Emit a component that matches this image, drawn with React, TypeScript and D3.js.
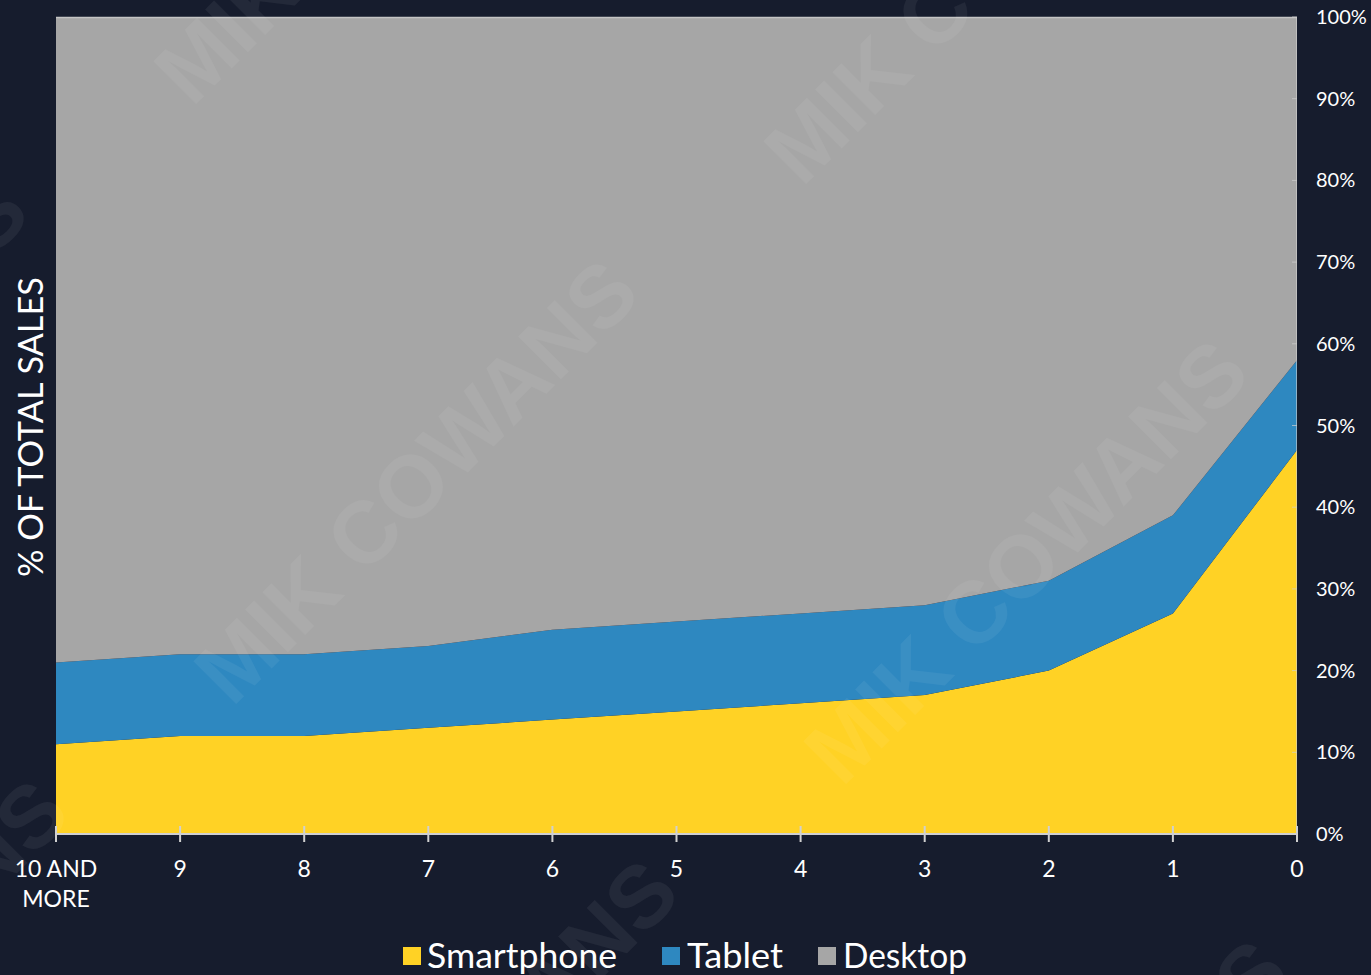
import React from "react";
import * as d3 from "d3";

const categories = ["10 AND MORE", "9", "8", "7", "6", "5", "4", "3", "2", "1", "0"];
const smartphone = [11, 12, 12, 13, 14, 15, 16, 17, 20, 27, 47];
const tablet = [10, 10, 10, 10, 11, 11, 11, 11, 11, 12, 11];
const desktop = [79, 78, 78, 77, 75, 74, 73, 72, 69, 61, 42];
const yTicks = [0, 10, 20, 30, 40, 50, 60, 70, 80, 90, 100];
const seriesNames = ["Smartphone", "Tablet", "Desktop"];
const colors = ["#FFD225", "#2E88C0", "#A6A6A6"];

const W = 1371, H = 975;
const FONT = "Lato, 'Noto Sans', sans-serif";

export default function App() {
  const x = d3.scalePoint<string>().domain(categories).range([56, 1297]);
  const y = d3.scaleLinear().domain([0, 100]).range([834, 17]);
  const rows = categories.map((c, i) => ({ cat: c, Smartphone: smartphone[i], Tablet: tablet[i], Desktop: desktop[i] }));
  const stack = d3.stack<any>().keys(seriesNames)(rows);
  const area = d3.area<any>()
    .x((d) => x(d.data.cat) as number)
    .y0((d) => y(d[0]))
    .y1((d) => y(d[1]));

  // watermark lattice
  const marks: [number, number][] = [];
  for (let i = -2; i <= 3; i++) {
    for (let j = -2; j <= 3; j++) {
      const cx = 415 + i * 610 + j * 40;
      const cy = 480 + i * 80 + j * 600;
      if (cx > -400 && cx < W + 400 && cy > -400 && cy < H + 400) marks.push([cx, cy]);
    }
  }

  return (
    <svg width={W} height={H} style={{ position: "absolute", left: 0, top: 0, background: "#161C2D" }}>
      <rect x={0} y={0} width={W} height={H} fill="#161C2D" />
      {stack.map((s, k) => (
        <path key={seriesNames[k]} d={area(s) as string} fill={colors[k]} />
      ))}
      <line x1={56} x2={1297} y1={17.5} y2={17.5} stroke="#C4C4C4" strokeWidth={1.5} />
      {/* x axis */}
      <line x1={56} x2={1297} y1={834} y2={834} stroke="#D0D0D0" strokeWidth={2} />
      {categories.map((c) => (
        <line key={"t" + c} x1={x(c)} x2={x(c)} y1={826} y2={842} stroke="#D0D0D0" strokeWidth={2} />
      ))}
      {categories.map((c) => {
        const parts = c === "10 AND MORE" ? ["10 AND", "MORE"] : [c];
        return (
          <text key={"l" + c} x={x(c)} y={877} fill="#FFFFFF" fontFamily={FONT} fontSize={23} textAnchor="middle">
            {parts.map((p, i) => (
              <tspan key={i} x={x(c)} dy={i === 0 ? 0 : 30}>{p}</tspan>
            ))}
          </text>
        );
      })}
      {/* right axis */}
      <line x1={1296.5} x2={1296.5} y1={17} y2={834} stroke="#D0D0D0" strokeWidth={1} strokeOpacity={0.6} />
      {yTicks.map((t) => (
        <g key={"y" + t}>
          <line x1={1292} x2={1297} y1={y(t)} y2={y(t)} stroke="#D0D0D0" strokeWidth={1} strokeOpacity={0.7} />
          <text x={1316} y={y(t) + 7} fill="#FFFFFF" fontFamily={FONT} fontSize={20}>{t + "%"}</text>
        </g>
      ))}
      <text transform="translate(43,427) rotate(-90)" fill="#FFFFFF" fontFamily={FONT} fontSize={34}
        textAnchor="middle" textLength={300} lengthAdjust="spacingAndGlyphs">% OF TOTAL SALES</text>
      {/* legend */}
      {[
        { n: "Smartphone", sx: 403, tx: 427, w: 190 },
        { n: "Tablet", sx: 662, tx: 687, w: 96 },
        { n: "Desktop", sx: 818, tx: 843, w: 124 },
      ].map((l, k) => (
        <g key={l.n}>
          <rect x={l.sx} y={947} width={18} height={18} fill={colors[k]} />
          <text x={l.tx} y={968} fill="#FFFFFF" fontFamily={FONT} fontSize={34} textLength={l.w} lengthAdjust="spacingAndGlyphs">{l.n}</text>
        </g>
      ))}
      {/* watermark */}
      <g pointerEvents="none">
        {marks.map(([cx, cy], i) => (
          <text key={"w" + i} transform={`translate(${cx},${cy}) rotate(-45)`} textAnchor="middle" dy={32}
            fill="#FFFFFF" fillOpacity={0.06} fontFamily="'Liberation Sans', Arial, sans-serif" fontWeight="bold" fontSize={88}>
            MIK COWANS
          </text>
        ))}
      </g>
    </svg>
  );
}
